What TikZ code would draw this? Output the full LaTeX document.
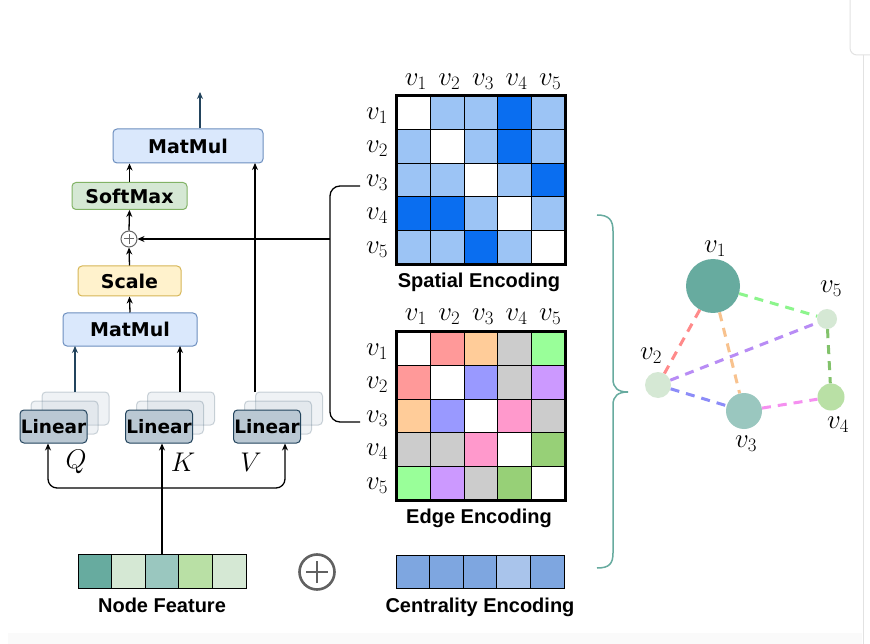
\documentclass[tikz,border=0pt]{standalone}
\usepackage{fix-cm}
\usepackage{fontspec}
\newfontfamily\boxfont{DejaVu Sans}
\newfontfamily\labfont{Liberation Sans}
\usetikzlibrary{arrows.meta}
\definecolor{mmfill}{HTML}{DAE8FC}
\definecolor{mmline}{HTML}{6C8EBF}
\definecolor{smfill}{HTML}{D5E8D4}
\definecolor{smline}{HTML}{82B366}
\definecolor{scfill}{HTML}{FFF2CC}
\definecolor{scline}{HTML}{D6B656}
\definecolor{linfill}{HTML}{BAC8D3}
\definecolor{linline}{HTML}{23445D}
\definecolor{sL}{HTML}{9CC4F5}
\definecolor{sD}{HTML}{0A6EF0}
\definecolor{eR}{HTML}{FF9999}
\definecolor{eO}{HTML}{FFCC99}
\definecolor{eG}{HTML}{CCCCCC}
\definecolor{eN}{HTML}{99FF99}
\definecolor{eB}{HTML}{9999FF}
\definecolor{eP}{HTML}{CC99FF}
\definecolor{eK}{HTML}{FF99CC}
\definecolor{eM}{HTML}{97D077}
\definecolor{nA}{HTML}{67AB9F}
\definecolor{nB}{HTML}{D5E8D4}
\definecolor{nC}{HTML}{9AC7BF}
\definecolor{nD}{HTML}{B9E0A5}
\definecolor{cA}{HTML}{7EA6E0}
\definecolor{cB}{HTML}{A9C4EB}
\definecolor{brc}{HTML}{67AB9F}
\definecolor{gRed}{HTML}{FF8A8A}
\definecolor{gOra}{HTML}{F8C28E}
\definecolor{gGrn}{HTML}{8CF58C}
\definecolor{gPur}{HTML}{B88CF5}
\definecolor{gBlu}{HTML}{8C8CF8}
\definecolor{gPnk}{HTML}{F590F0}
\definecolor{gDgr}{HTML}{82C26B}
\definecolor{artl}{HTML}{E2E2E2}
\begin{document}
\begin{tikzpicture}[x=1pt,y=-1pt,
  opbox/.style={rounded corners=4pt,line width=1pt,inner sep=0pt,
    font=\boxfont\bfseries\fontsize{19}{19}\selectfont},
  mmbox/.style={opbox,draw=mmline,fill=mmfill},
  smbox/.style={opbox,draw=smline,fill=smfill},
  scbox/.style={opbox,draw=scline,fill=scfill},
  linbox/.style={opbox,draw=linline,fill=linfill,minimum width=67pt,minimum height=33pt,
    font=\boxfont\bfseries\fontsize{18.5}{18.5}\selectfont},
  backcard/.style={rounded corners=4pt,line width=1pt,draw=linline,draw opacity=0.22,
    fill=linfill,fill opacity=0.22,minimum width=67pt,minimum height=33pt},
  arr/.style={line width=1.3pt,-{Stealth[length=7pt,width=6pt]}},
  darr/.style={arr,draw=linline},
  cell/.style={draw=black,line width=1.2pt,minimum size=33.6pt,inner sep=0pt},
  vlab/.style={font=\fontsize{27}{27}\selectfont,inner sep=0pt},
  caption/.style={font=\labfont\bfseries\fontsize{20}{20}\selectfont,anchor=base,inner sep=0pt},
  gnode/.style={circle,inner sep=0pt},
  gedge/.style={line width=3pt,dash pattern=on 9pt off 7pt}]
\useasboundingbox (0,0) rectangle (870,644);
% screenshot frame artifacts
\fill[white] (0,0) rectangle (870,644);
\fill[black!2] (8,633) rectangle (862,644);
\draw[artl,line width=1pt,rounded corners=7pt] (850,0) -- (850,55) -- (870,55);
\draw[artl,line width=1pt] (863,55) -- (863,644);

% ---------- attention block ----------
\node[mmbox,minimum width=150pt,minimum height=34pt] (mmtop) at (188,146) {MatMul};
\node[smbox,minimum width=115pt,minimum height=27pt] (soft) at (129.5,196) {SoftMax};
\node[circle,draw=black!60,line width=1pt,minimum size=16pt,inner sep=0pt] (plus) at (129,239) {};
\draw[black!60,line width=1pt] ([xshift=-5pt]plus.center) -- ([xshift=5pt]plus.center)
  ([yshift=-5pt]plus.center) -- ([yshift=5pt]plus.center);
\node[scbox,minimum width=103pt,minimum height=30pt] (scale) at (129.5,281) {Scale};
\node[mmbox,minimum width=134pt,minimum height=33pt] (mmlow) at (130,329.5) {MatMul};

\coordinate (out) at (200,92);
\draw[darr] ([xshift=12pt]mmtop.north) -- (out);
\draw[arr] (soft.north) -- (soft.north |- mmtop.south);
\draw[arr] (plus.north) -- (soft.south);
\draw[arr] (scale.north) -- (plus.south);
\draw[arr] (mmlow.north) -- (scale.south);

% Linear stacks
\foreach \n/\cx in {lq/53.5,lk/159,lv/267}{
  \node[backcard] (\n b2) at (\cx+22,408.5) {};
  \node[backcard] (\n b1) at (\cx+11,417.5) {};
  \node[linbox] (\n) at (\cx,426.5) {Linear};
}
\draw[darr] (75,392) -- (75,346);
\draw[arr] (180,392) -- (180,346);
\draw[arr] (255,392) -- (255,163);

\node[vlab] (qlab) at (76,462) {$Q$};
\node[vlab] (klab) at (183,462) {$K$};
\node[vlab] (vlab1) at (251,462) {$V$};

% Node feature
\foreach \i/\c in {1/nA,2/nB,3/nC,4/nD,5/nB}{
  \node[cell,fill=\c,line width=1pt] (nf\i) at (78+33.6*\i-16.8,571.5) {};
}
\node[caption] (nfcap) at (162,612) {Node Feature};
\draw[arr] (nf3.north) -- (nf3.north |- lk.south);
\coordinate (fork) at (163,488);
\draw[line width=1.3pt,{Stealth[length=7pt,width=6pt]}-{Stealth[length=7pt,width=6pt]},rounded corners=9pt]
  ([xshift=-5.5pt]lq.south) |- (fork) -| ([xshift=18pt]lv.south);

% big plus
\node[circle,draw=black!62,line width=2.6pt,minimum size=35pt,inner sep=0pt] (bigplus) at (317,572) {};
\draw[black!62,line width=2.6pt] ([xshift=-11pt]bigplus.center) -- ([xshift=11pt]bigplus.center)
  ([yshift=-11pt]bigplus.center) -- ([yshift=11pt]bigplus.center);

% Centrality
\foreach \i/\c in {1/cA,2/cA,3/cA,4/cB,5/cA}{
  \node[cell,fill=\c,line width=1pt] (ce\i) at (396+33.6*\i-16.8,572) {};
}
\node[caption] (cecap) at (480,612) {Centrality Encoding};

% ---------- spatial encoding matrix ----------
\foreach \r/\row in {1/{white,sL,sL,sD,sL},2/{sL,white,sL,sD,sL},3/{sL,sL,white,sL,sD},
                     4/{sD,sD,sL,white,sL},5/{sL,sL,sD,sL,white}}{
  \foreach \c [count=\k] in \row {
    \node[cell,fill=\c] (s\r\k) at (397+33.6*\k-16.8,96+33.6*\r-16.8) {};
  }
}
\draw[line width=2pt] (s11.north west) rectangle (s55.south east);
\foreach \i in {1,...,5}{
  \node[vlab] (sc\i) at (397+33.6*\i-14.8,82) {$v_{\i}$};
  \node[vlab] (sr\i) at (377,96+33.6*\i-14.3) {$v_{\i}$};
}
\node[caption] (spcap) at (479,288) {Spatial Encoding};

% ---------- edge encoding matrix ----------
\foreach \r/\row in {1/{white,eR,eO,eG,eN},2/{eR,white,eB,eG,eP},3/{eO,eB,white,eK,eG},
                     4/{eG,eG,eK,white,eM},5/{eN,eP,eG,eM,white}}{
  \foreach \c [count=\k] in \row {
    \node[cell,fill=\c] (e\r\k) at (397+33.6*\k-16.8,332+33.6*\r-16.8) {};
  }
}
\draw[line width=2pt] (e11.north west) rectangle (e55.south east);
\foreach \i in {1,...,5}{
  \node[vlab] (ec\i) at (397+33.6*\i-14.8,317) {$v_{\i}$};
  \node[vlab] (er\i) at (377,332+33.6*\i-14.3) {$v_{\i}$};
}
\node[caption] (edcap) at (479,523) {Edge Encoding};

% bracket linking rows v3 to the plus
\coordinate (bt) at (360,186);
\coordinate (bb) at (360,422);
\coordinate (brk) at (330,239);
\draw[line width=1.3pt,rounded corners=10pt] (bt) -| (bb -| brk) -- (bb);
\draw[arr] (brk) -- (plus.east);

% ---------- right brace ----------
\draw[brc,line width=1.5pt] (597,215) .. controls (609,215) and (613,220) .. (613,231)
  -- (613,379) .. controls (613,388) and (618,392) .. (628,392)
  .. controls (618,392) and (613,396) .. (613,405)
  -- (613,553) .. controls (613,564) and (609,568) .. (597,568);

% ---------- graph ----------
\node[gnode,fill=nA,minimum size=54pt] (g1) at (713,286) {};
\node[gnode,fill=nB,minimum size=26pt] (g2) at (658,385) {};
\node[gnode,fill=nC,minimum size=36pt] (g3) at (744,411) {};
\node[gnode,fill=nD,minimum size=27pt] (g4) at (831,397) {};
\node[gnode,fill=nB,minimum size=20pt] (g5) at (827,319) {};
\draw[gedge,gRed] (g1) -- (g2);
\draw[gedge,gOra] (g1) -- (g3);
\draw[gedge,gGrn] (g1) -- (g5);
\draw[gedge,gPur] (g2) -- (g5);
\draw[gedge,gBlu] (g2) -- (g3);
\draw[gedge,gPnk] (g3) -- (g4);
\draw[gedge,gDgr] (g5) -- (g4);
\node[vlab] (gl1) at (715,249) {$v_1$};
\node[vlab] (gl2) at (651,356) {$v_2$};
\node[vlab] (gl3) at (746,444) {$v_3$};
\node[vlab] (gl4) at (838,425) {$v_4$};
\node[vlab] (gl5) at (831,289) {$v_5$};
\end{tikzpicture}
\end{document}
